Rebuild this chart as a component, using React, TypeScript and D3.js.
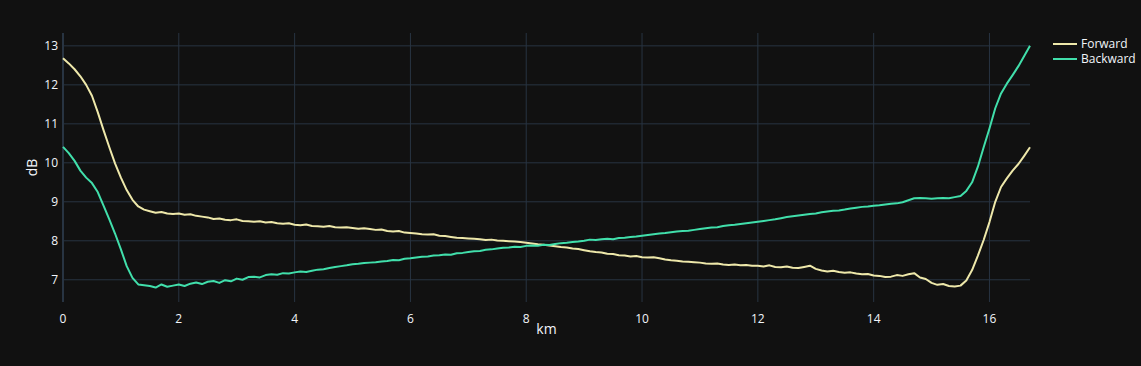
import React, { useEffect, useRef } from 'react';
import * as d3 from 'd3';

// distance step along the fibre (km), one reading every 100 m
const kmStep = 0.1;

const forward = [
  12.68, 12.55, 12.40, 12.22, 12.00, 11.72, 11.30, 10.84, 10.40, 9.98,
  9.62, 9.30, 9.05, 8.88, 8.80, 8.76, 8.72, 8.74, 8.70, 8.69,
  8.70, 8.67, 8.68, 8.64, 8.62, 8.60, 8.56, 8.57, 8.54, 8.53,
  8.55, 8.51, 8.50, 8.49, 8.50, 8.47, 8.48, 8.45, 8.44, 8.45,
  8.41, 8.40, 8.42, 8.38, 8.37, 8.36, 8.38, 8.35, 8.34, 8.35,
  8.33, 8.31, 8.32, 8.30, 8.28, 8.29, 8.25, 8.24, 8.25, 8.21,
  8.20, 8.19, 8.17, 8.16, 8.17, 8.13, 8.12, 8.10, 8.08, 8.07,
  8.06, 8.05, 8.04, 8.02, 8.03, 8.01, 8.00, 7.99, 7.98, 7.97,
  7.95, 7.93, 7.91, 7.90, 7.88, 7.86, 7.84, 7.83, 7.80, 7.79,
  7.76, 7.73, 7.71, 7.70, 7.67, 7.66, 7.63, 7.62, 7.60, 7.61,
  7.58, 7.57, 7.58, 7.55, 7.52, 7.50, 7.49, 7.47, 7.46, 7.45,
  7.44, 7.42, 7.41, 7.42, 7.39, 7.38, 7.39, 7.37, 7.38, 7.36,
  7.36, 7.34, 7.37, 7.33, 7.32, 7.34, 7.31, 7.30, 7.33, 7.36,
  7.28, 7.24, 7.21, 7.23, 7.20, 7.18, 7.19, 7.16, 7.14, 7.15,
  7.11, 7.10, 7.07, 7.08, 7.12, 7.10, 7.14, 7.17, 7.06, 7.02,
  6.92, 6.87, 6.89, 6.84, 6.83, 6.85, 6.98, 7.25, 7.62, 8.02,
  8.48, 9.00, 9.38, 9.60, 9.80, 9.97, 10.18, 10.40,
];

// Backward trace (dB)
const backward = [
  10.41, 10.25, 10.05, 9.80, 9.62, 9.48, 9.25, 8.90, 8.55, 8.18,
  7.78, 7.35, 7.05, 6.88, 6.86, 6.84, 6.80, 6.88, 6.82, 6.85,
  6.88, 6.84, 6.90, 6.93, 6.89, 6.95, 6.97, 6.92, 6.99, 6.96,
  7.03, 7.00, 7.07, 7.08, 7.06, 7.12, 7.14, 7.13, 7.17, 7.16,
  7.19, 7.21, 7.20, 7.23, 7.26, 7.27, 7.30, 7.33, 7.35, 7.37,
  7.40, 7.41, 7.43, 7.44, 7.45, 7.47, 7.48, 7.51, 7.50, 7.54,
  7.55, 7.57, 7.59, 7.60, 7.62, 7.63, 7.65, 7.64, 7.68, 7.69,
  7.71, 7.73, 7.74, 7.77, 7.78, 7.80, 7.82, 7.83, 7.85, 7.84,
  7.87, 7.88, 7.87, 7.90, 7.89, 7.92, 7.94, 7.95, 7.97, 7.98,
  8.00, 8.03, 8.02, 8.04, 8.05, 8.04, 8.07, 8.08, 8.10, 8.11,
  8.13, 8.15, 8.17, 8.19, 8.20, 8.22, 8.24, 8.25, 8.26, 8.28,
  8.30, 8.32, 8.34, 8.35, 8.38, 8.40, 8.41, 8.43, 8.45, 8.47,
  8.49, 8.51, 8.53, 8.55, 8.58, 8.61, 8.63, 8.65, 8.67, 8.69,
  8.70, 8.73, 8.75, 8.77, 8.78, 8.80, 8.83, 8.85, 8.87, 8.88,
  8.90, 8.91, 8.93, 8.95, 8.96, 8.99, 9.04, 9.09, 9.10, 9.09,
  9.08, 9.09, 9.10, 9.09, 9.12, 9.15, 9.28, 9.50, 9.90, 10.40,
  10.88, 11.40, 11.78, 12.03, 12.25, 12.48, 12.74, 13.00,
];

const seriesNames = ['Forward', 'Backward'];
const xTicks = [0, 2, 4, 6, 8, 10, 12, 14, 16];
const yTicks = [7, 8, 9, 10, 11, 12, 13];

const App = () => {
  const svgRef = useRef(null);

  useEffect(() => {
    const width = 1141;
    const height = 366;
    const margin = { top: 33, right: 111, bottom: 64, left: 63 };
    const colors = ['#eee8aa', '#41dfab'];
    const gridColor = '#283442';
    const fontColor = '#f2f5fa';
    const font = '"Open Sans", verdana, arial, sans-serif';

    const svg = d3.select(svgRef.current);
    svg.selectAll('*').remove();
    svg.attr('width', width).attr('height', height);

    svg.append('rect').attr('width', width).attr('height', height).attr('fill', '#111111');

    const series = [forward, backward].map((vals, s) => ({
      name: seriesNames[s],
      color: colors[s],
      points: vals.map((v, i) => ({ km: i * kmStep, db: v })),
    }));

    const x = d3.scaleLinear()
      .domain([0, (forward.length - 1) * kmStep])
      .range([margin.left, width - margin.right]);
    // plotly pads the autorange a little on both ends
    const y = d3.scaleLinear()
      .domain([6.43, 13.33])
      .range([height - margin.bottom, margin.top]);

    // grid
    svg.append('g').selectAll('line').data(yTicks).join('line')
      .attr('x1', margin.left).attr('x2', width - margin.right)
      .attr('y1', (d) => y(d)).attr('y2', (d) => y(d))
      .attr('stroke', gridColor).attr('stroke-width', 1);
    svg.append('g').selectAll('line').data(xTicks).join('line')
      .attr('x1', (d) => x(d)).attr('x2', (d) => x(d))
      .attr('y1', margin.top).attr('y2', height - margin.bottom)
      .attr('stroke', gridColor).attr('stroke-width', (d) => (d === 0 ? 2 : 1));

    // tick labels
    svg.append('g').selectAll('text').data(yTicks).join('text')
      .attr('x', margin.left - 5)
      .attr('y', (d) => y(d))
      .attr('dy', '0.35em')
      .attr('text-anchor', 'end')
      .style('font-family', font).style('font-size', '12px').style('fill', fontColor)
      .text((d) => d);
    svg.append('g').selectAll('text').data(xTicks).join('text')
      .attr('x', (d) => x(d))
      .attr('y', height - margin.bottom + 12)
      .attr('dy', '0.71em')
      .attr('text-anchor', 'middle')
      .style('font-family', font).style('font-size', '12px').style('fill', fontColor)
      .text((d) => d);

    // axis titles
    svg.append('text')
      .attr('x', (margin.left + width - margin.right) / 2)
      .attr('y', 334)
      .attr('text-anchor', 'middle')
      .style('font-family', font).style('font-size', '14px').style('fill', fontColor)
      .text('km');
    svg.append('text')
      .attr('transform', `translate(37,${(margin.top + height - margin.bottom) / 2}) rotate(-90)`)
      .attr('text-anchor', 'middle')
      .style('font-family', font).style('font-size', '14px').style('fill', fontColor)
      .text('dB');

    // traces
    const line = d3.line()
      .x((d) => x(d.km))
      .y((d) => y(d.db));

    svg.append('g').selectAll('path').data(series).join('path')
      .attr('d', (d) => line(d.points))
      .attr('fill', 'none')
      .attr('stroke', (d) => d.color)
      .attr('stroke-width', 2)
      .attr('stroke-linejoin', 'round');

    // legend
    const legend = svg.append('g').attr('transform', 'translate(1053,44)');
    const items = legend.selectAll('g').data(series).join('g')
      .attr('transform', (_, i) => `translate(0,${i * 15})`);
    items.append('line')
      .attr('x1', 0).attr('x2', 24).attr('y1', 0).attr('y2', 0)
      .attr('stroke', (d) => d.color).attr('stroke-width', 2);
    items.append('text')
      .attr('x', 28).attr('dy', '0.35em')
      .style('font-family', font).style('font-size', '12px').style('fill', fontColor)
      .text((d) => d.name);
  }, []);

  return <svg ref={svgRef} style={{ position: 'absolute', left: 0, top: 0 }} />;
};

export default App;
